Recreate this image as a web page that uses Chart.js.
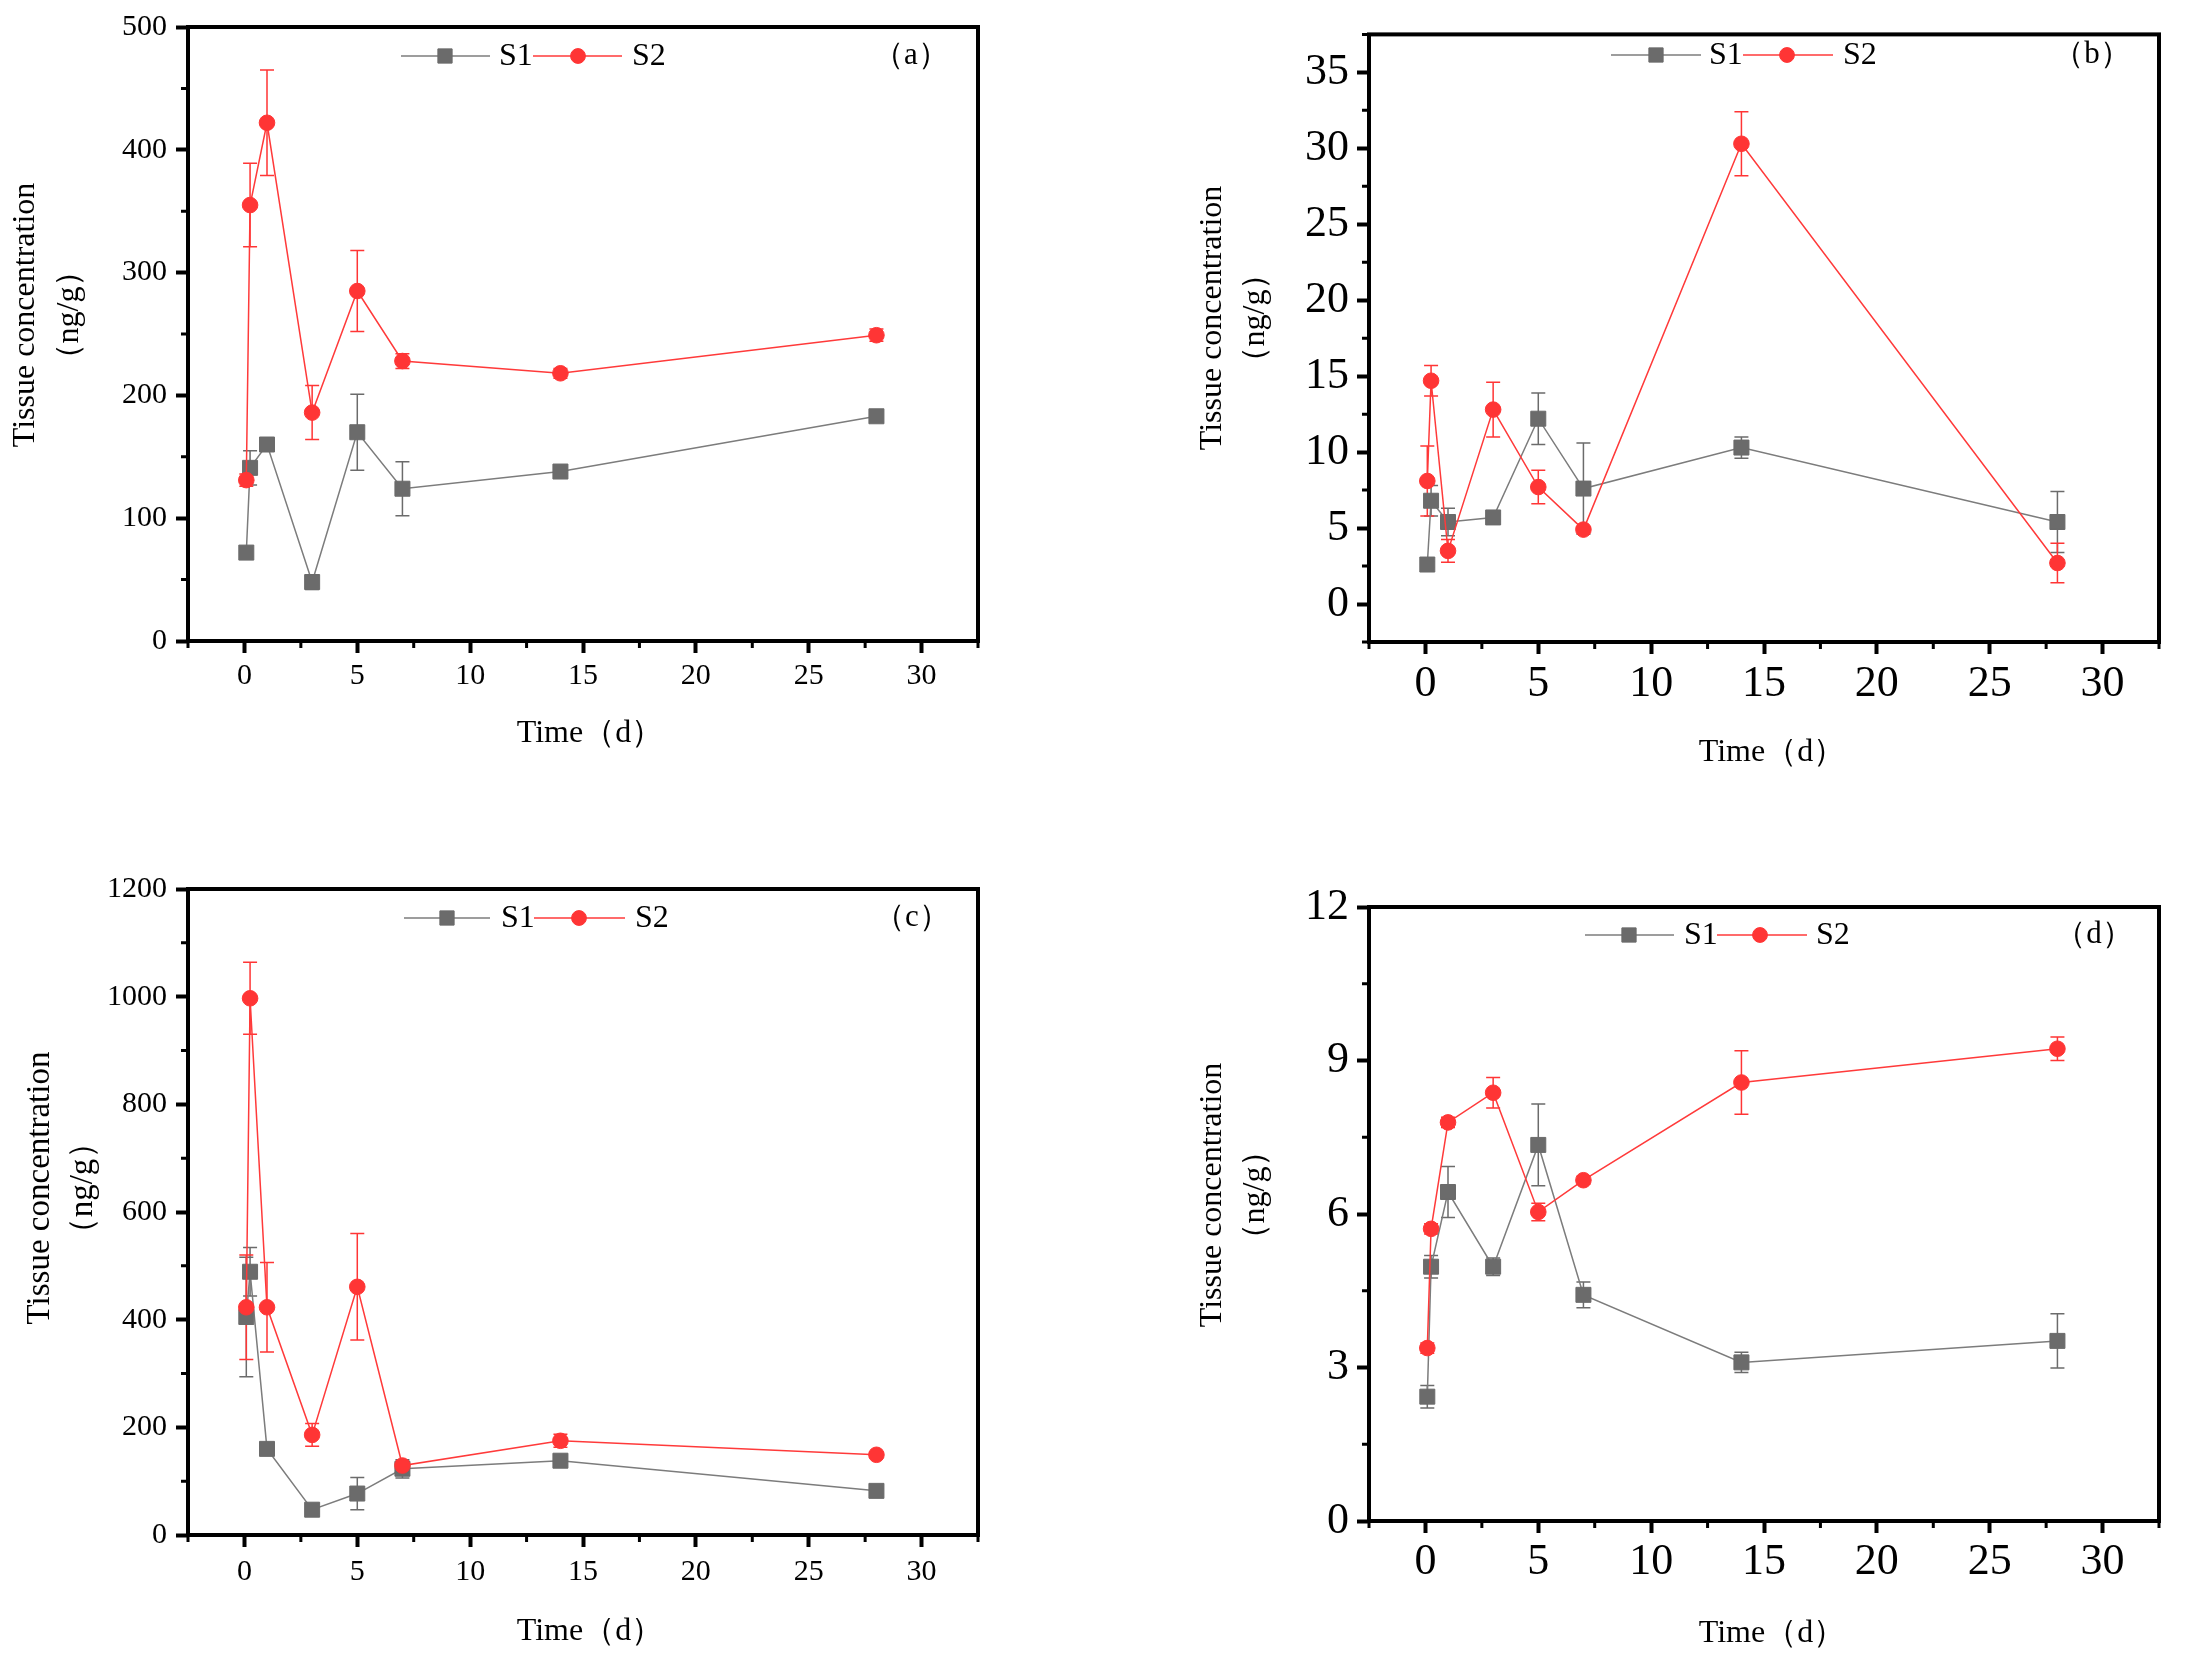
<!DOCTYPE html>
<html><head><meta charset="utf-8">
<script src="https://cdn.jsdelivr.net/npm/chart.js@4.4.1/dist/chart.umd.min.js"></script>
<style>
html,body{margin:0;padding:0;background:#fff;}
#wrap{position:relative;width:2185px;height:1659px;overflow:hidden;background:#fff;}
canvas{position:absolute;}
</style></head><body>
<div id="wrap">
<canvas id="ca" width="1092" height="829" style="left:0;top:0"></canvas>
<canvas id="cb" width="1093" height="829" style="left:1092px;top:0"></canvas>
<canvas id="cc" width="1092" height="830" style="left:0;top:829px"></canvas>
<canvas id="cd" width="1093" height="830" style="left:1092px;top:829px"></canvas>
</div>
<script>
// ---- data ----
const timeDays = [0.083, 0.25, 1, 3, 5, 7, 14, 28];
const seriesNames = ['S1', 'S2'];

const aS1 = [72, 141, 160, 48, 170, 124, 138, 183];
const aS1Err = [3, 14, 4, 6, 31, 22, 3, 4];
const aS2 = [131, 355, 422, 186, 285, 228, 218, 249];
const aS2Err = [5, 34, 43, 22, 33, 6, 4, 5];

const bS1 = [2.6, 6.8, 5.4, 5.7, 12.2, 7.6, 10.3, 5.4];
const bS1Err = [0.2, 1.0, 0.9, 0.2, 1.7, 3.0, 0.7, 2.0];
const bS2 = [8.1, 14.7, 3.5, 12.8, 7.7, 4.9, 30.3, 2.7];
const bS2Err = [2.3, 1.0, 0.75, 1.8, 1.1, 0.2, 2.1, 1.3];

const cS1 = [405, 489, 160, 47, 77, 123, 138, 82];
const cS1Err = [111, 45, 8, 5, 30, 17, 5, 5];
const cS2 = [423, 997, 423, 186, 461, 129, 175, 149];
const cS2Err = [97, 67, 83, 21, 99, 8, 12, 5];

const dS1 = [2.43, 4.97, 6.43, 4.97, 7.35, 4.42, 3.10, 3.52];
const dS1Err = [0.22, 0.22, 0.5, 0.17, 0.8, 0.25, 0.2, 0.53];
const dS2 = [3.38, 5.71, 7.79, 8.37, 6.04, 6.66, 8.57, 9.23];
const dS2Err = [0.1, 0.1, 0.1, 0.3, 0.17, 0.08, 0.62, 0.23];

const xTicks = [0, 5, 10, 15, 20, 25, 30];
const xMinorTicks = [-2.5, 2.5, 7.5, 12.5, 17.5, 22.5, 27.5, 32.5];
const aYTicks = [0, 100, 200, 300, 400, 500];
const aYMinor = [50, 150, 250, 350, 450];
const bYTicks = [0, 5, 10, 15, 20, 25, 30, 35];
const bYMinor = [-2.5, 2.5, 7.5, 12.5, 17.5, 22.5, 27.5, 32.5, 37.5];
const cYTicks = [0, 200, 400, 600, 800, 1000, 1200];
const cYMinor = [100, 300, 500, 700, 900, 1100];
const dYTicks = [0, 3, 6, 9, 12];
const dYMinor = [1.5, 4.5, 7.5, 10.5];

const xTitleText = 'Time（d）';
const yTitleLines = ['Tissue concentration', '（ng/g）'];
const panelTags = ['（a）', '（b）', '（c）', '（d）'];

// ---- style ----
const FONT = '"Liberation Serif", "Times New Roman", serif';
const S1_LINE = '#7c7c7c', S1_FILL = '#6b6b6b';
const S2_LINE = '#ff3a3a', S2_FILL = '#ff3535';

const decor = {
  id: 'decor',
  beforeDatasetsDraw(chart) {
    const ctx = chart.ctx, xs = chart.scales.x, ys = chart.scales.y;
    chart.data.datasets.forEach(ds => {
      ctx.save();
      ctx.strokeStyle = ds.errColor;
      ctx.lineWidth = 1.5;
      ds.data.forEach((p, i) => {
        const e = ds.errors[i];
        if (!e) return;
        const x = xs.getPixelForValue(p.x);
        const y1 = ys.getPixelForValue(p.y + e), y2 = ys.getPixelForValue(p.y - e);
        ctx.beginPath();
        ctx.moveTo(x, y1); ctx.lineTo(x, y2);
        ctx.moveTo(x - 7, y1); ctx.lineTo(x + 7, y1);
        ctx.moveTo(x - 7, y2); ctx.lineTo(x + 7, y2);
        ctx.stroke();
      });
      ctx.restore();
    });
  },
  afterDraw(chart, args, o) {
    const ctx = chart.ctx, a = chart.chartArea, xs = chart.scales.x, ys = chart.scales.y;
    ctx.save();
    ctx.strokeStyle = '#000';
    ctx.lineWidth = 4;
    ctx.strokeRect(a.left, a.top, a.right - a.left, a.bottom - a.top);
    ctx.lineWidth = 3;
    ctx.beginPath();
    xMinorTicks.forEach(v => {
      const px = xs.getPixelForValue(v);
      ctx.moveTo(px, a.bottom); ctx.lineTo(px, a.bottom + 7);
    });
    o.yMinor.forEach(v => {
      const py = ys.getPixelForValue(v);
      ctx.moveTo(a.left, py); ctx.lineTo(a.left - 7, py);
    });
    ctx.stroke();
    ctx.fillStyle = '#000';
    ctx.textAlign = 'center';
    ctx.textBaseline = 'middle';
    ctx.font = '32px ' + FONT;
    ctx.fillText(xTitleText, o.xTitle[0], o.xTitle[1]);
    ctx.font = o.yTitleSize + 'px ' + FONT;
    yTitleLines.forEach((t, i) => {
      ctx.save();
      ctx.translate(o.yTitleX[i], o.yTitleY);
      ctx.rotate(-Math.PI / 2);
      ctx.fillText(t, 0, 0);
      ctx.restore();
    });
    const ly = o.legend.y;
    chart.data.datasets.slice().sort((p, q) => p.legendIndex - q.legendIndex).forEach((ds, i) => {
      const it = o.legend.items[i];
      ctx.strokeStyle = ds.borderColor;
      ctx.lineWidth = 1.5;
      ctx.beginPath(); ctx.moveTo(it[0], ly); ctx.lineTo(it[1], ly); ctx.stroke();
      ctx.fillStyle = ds.pointBackgroundColor;
      ctx.strokeStyle = ds.pointBackgroundColor;
      ctx.lineWidth = 1;
      Chart.helpers.drawPoint(ctx, {pointStyle: ds.pointStyle, radius: ds.pointRadius * 0.95, rotation: 0, borderWidth: 1}, it[2], ly);
      ctx.fillStyle = '#000';
      ctx.textAlign = 'left';
      ctx.font = '32px ' + FONT;
      ctx.fillText(ds.label, it[3], ly + 1);
    });
    ctx.textAlign = 'center';
    ctx.font = '31px ' + FONT;
    ctx.fillText(o.tag, o.tagX, ly);
    ctx.restore();
  }
};

function makeDs(label, vals, errs, line, fill, style, r, order, li) {
  return {
    label, data: timeDays.map((t, i) => ({x: t, y: vals[i]})), errors: errs, errColor: fill,
    borderColor: line, backgroundColor: fill, pointBackgroundColor: fill, pointBorderColor: fill,
    pointBorderWidth: 1, pointStyle: style, pointRadius: r, borderWidth: 1.5, tension: 0,
    order, legendIndex: li, fill: false
  };
}

function makePanel(id, p) {
  new Chart(document.getElementById(id), {
    type: 'line',
    data: {datasets: [
      makeDs(seriesNames[0], p.s1, p.s1e, S1_LINE, S1_FILL, 'rect', 10.6, 1, 0),
      makeDs(seriesNames[1], p.s2, p.s2e, S2_LINE, S2_FILL, 'circle', 7.8, 0, 1)
    ]},
    options: {
      responsive: false, animation: false, devicePixelRatio: 1, events: [],
      layout: {padding: {left: 0, bottom: 0, top: p.top, right: p.right}},
      plugins: {
        legend: {display: false}, tooltip: {enabled: false},
        decor: {yMinor: p.yMinor, xTitle: p.xTitle, yTitleX: p.yTitleX, yTitleY: p.yTitleY,
                yTitleSize: p.yTitleSize, legend: p.legend, tag: p.tag, tagX: p.tagX}
      },
      scales: {
        x: {
          type: 'linear', min: -2.5, max: 32.5,
          afterBuildTicks: s => { s.ticks = xTicks.map(v => ({value: v})); },
          afterFit: s => { s.height = p.xAxisH; },
          ticks: {autoSkip: false, maxRotation: 0, padding: p.xPad, color: '#000',
                  font: {family: FONT, size: p.tickSize}, callback: v => String(v)},
          grid: {display: true, drawOnChartArea: false, drawTicks: true, tickLength: 12, tickWidth: 4, tickColor: '#000'},
          border: {display: false}
        },
        y: {
          type: 'linear', min: p.yMin, max: p.yMax,
          afterBuildTicks: s => { s.ticks = p.yTicks.map(v => ({value: v})); },
          afterFit: s => { s.width = p.yAxisW; },
          ticks: {autoSkip: false, padding: p.yPad, color: '#000',
                  font: {family: FONT, size: p.tickSize}, callback: v => String(v)},
          grid: {display: true, drawOnChartArea: false, drawTicks: true, tickLength: 12, tickWidth: 4, tickColor: '#000'},
          border: {display: false}
        }
      }
    },
    plugins: [decor]
  });
}

makePanel('ca', {
  s1: aS1, s1e: aS1Err, s2: aS2, s2e: aS2Err, yMin: 0, yMax: 500, yTicks: aYTicks, yMinor: aYMinor,
  top: 27, right: 114, yAxisW: 188, xAxisH: 188, tickSize: 30, xPad: 5, yPad: 9,
  xTitle: [590, 734], yTitleX: [26, 70], yTitleY: 315, yTitleSize: 32,
  legend: {y: 56, items: [[401, 490, 445, 499], [533, 622, 578, 632]]}, tag: panelTags[0], tagX: 911
});
makePanel('cb', {
  s1: bS1, s1e: bS1Err, s2: bS2, s2e: bS2Err, yMin: -2.5, yMax: 37.5, yTicks: bYTicks, yMinor: bYMinor,
  top: 27, right: 26, yAxisW: 277, xAxisH: 187, tickSize: 44, xPad: 4, yPad: 8,
  xTitle: [680, 753], yTitleX: [121, 164], yTitleY: 318, yTitleSize: 32,
  legend: {y: 55, items: [[519, 609, 564, 617], [651, 741, 695, 751]]}, tag: panelTags[1], tagX: 1000
});
makePanel('cc', {
  s1: cS1, s1e: cS1Err, s2: cS2, s2e: cS2Err, yMin: 0, yMax: 1200, yTicks: cYTicks, yMinor: cYMinor,
  top: 60, right: 114, yAxisW: 188, xAxisH: 124, tickSize: 30, xPad: 7, yPad: 9,
  xTitle: [590, 803], yTitleX: [40, 83], yTitleY: 359, yTitleSize: 33,
  legend: {y: 89, items: [[404, 490, 447, 501], [534, 625, 579, 635]]}, tag: panelTags[2], tagX: 912
});
makePanel('cd', {
  s1: dS1, s1e: dS1Err, s2: dS2, s2e: dS2Err, yMin: 0, yMax: 12, yTicks: dYTicks, yMinor: dYMinor,
  top: 78, right: 26, yAxisW: 277, xAxisH: 138, tickSize: 44, xPad: 3, yPad: 8,
  xTitle: [680, 805], yTitleX: [121, 164], yTitleY: 366, yTitleSize: 32,
  legend: {y: 106, items: [[493, 582, 537, 592], [625, 715, 668, 724]]}, tag: panelTags[3], tagX: 1002
});
</script>
</body></html>
